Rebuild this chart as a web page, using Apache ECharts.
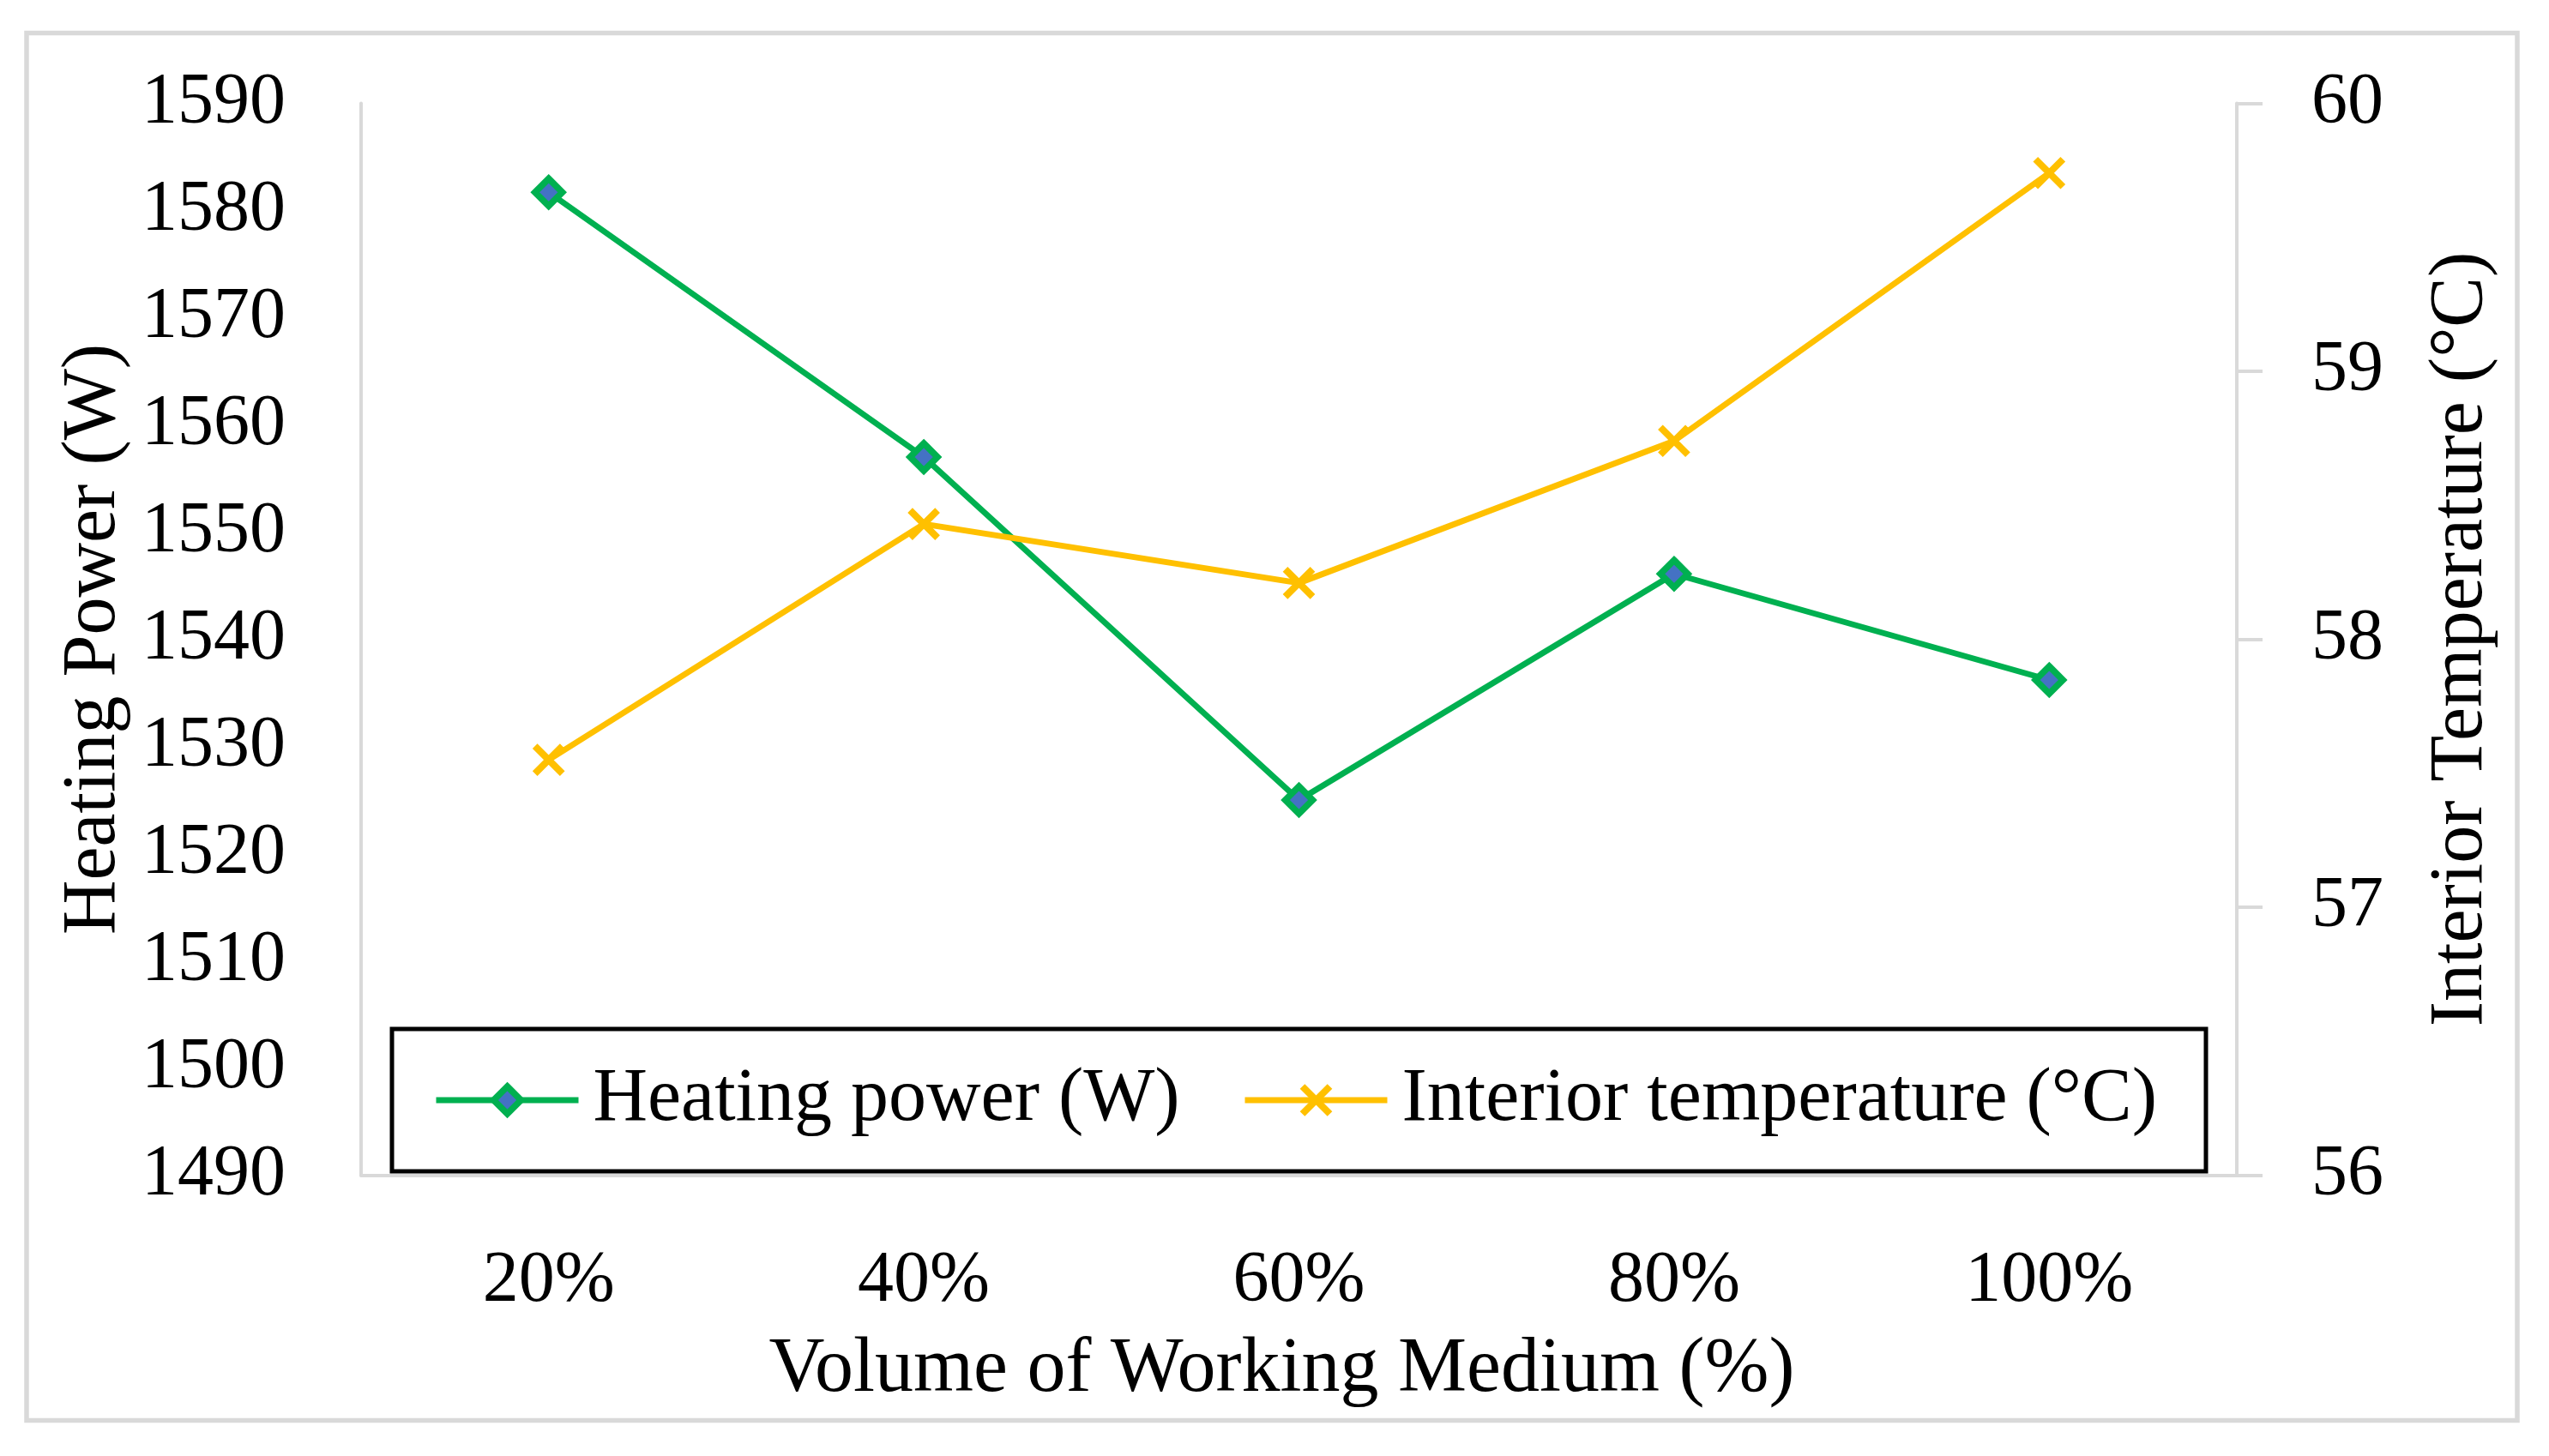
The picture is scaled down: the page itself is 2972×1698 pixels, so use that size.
<!DOCTYPE html>
<html>
<head>
<meta charset="utf-8">
<script src="https://cdn.jsdelivr.net/npm/echarts@6/dist/echarts.min.js"></script>
<style>
html,body{margin:0;padding:0;background:#fff;}
#c{width:2972px;height:1698px;}
</style>
</head>
<body>
<div id="c"></div>
<script>
const categories = ['20%', '40%', '60%', '80%', '100%'];
const heatingPower = [1581.7, 1557.0, 1525.0, 1546.1, 1536.2];
const interiorTemp = [57.55, 58.43, 58.21, 58.74, 59.74];
const leftAxis = {min: 1490, max: 1590, interval: 10};
const rightAxis = {min: 56, max: 60, interval: 1};
const seriesNames = ['Heating power (W)', 'Interior temperature (°C)'];

const FONT = 'Liberation Serif';
const GRAY = '#D9D9D9';

const chart = echarts.init(document.getElementById('c'), null, {renderer: 'canvas', devicePixelRatio: 1});

const option = {
  backgroundColor: '#fff',
  animation: false,
  textStyle: {fontFamily: FONT, color: '#000'},
  grid: {left: 421, right: 364, top: 120.5, bottom: 327.5, containLabel: false},
  graphic: [
    {type: 'rect', z: 0, shape: {x: 31, y: 38.5, width: 2904, height: 1618},
     style: {fill: 'none', stroke: GRAY, lineWidth: 5.5}},
    {type: 'rect', z: 100, shape: {x: 457, y: 1200, width: 2115, height: 166},
     style: {fill: '#fff', stroke: '#000', lineWidth: 5}}
  ],
  legend: [
    {data: [seriesNames[0]], left: 505, top: 1239, z: 110, padding: 0,
     itemWidth: 166, itemHeight: 40,
     lineStyle: {width: 7},
     itemStyle: {borderWidth: 7.5},
     textStyle: {fontFamily: FONT, fontSize: 88, color: '#000', padding: [0, 0, 0, 12]}},
    {data: [seriesNames[1]], left: 1448, top: 1239, z: 110, padding: 0,
     itemWidth: 166, itemHeight: 40,
     lineStyle: {width: 7},
     itemStyle: {borderWidth: 8},
     textStyle: {fontFamily: FONT, fontSize: 88, color: '#000', padding: [0, 0, 0, 12]}}
  ],
  xAxis: {
    type: 'category', data: categories, boundaryGap: true,
    name: 'Volume of Working Medium (%)', nameLocation: 'middle', nameGap: 183,
    nameTextStyle: {fontFamily: FONT, fontSize: 90, color: '#000', padding: [0, 40, 0, 0]},
    axisLine: {show: true, lineStyle: {color: GRAY, width: 4}},
    axisTick: {show: false},
    axisLabel: {fontFamily: FONT, fontSize: 84, color: '#000', margin: 82},
    splitLine: {show: false}
  },
  yAxis: [
    {
      type: 'value', position: 'left', min: leftAxis.min, max: leftAxis.max, interval: leftAxis.interval,
      name: 'Heating Power (W)', nameLocation: 'middle', nameRotate: 90, nameGap: 250,
      nameTextStyle: {fontFamily: FONT, fontSize: 88, color: '#000'},
      axisLine: {show: true, lineStyle: {color: GRAY, width: 4}},
      axisTick: {show: false},
      axisLabel: {fontFamily: FONT, fontSize: 84, color: '#000', margin: 88,
                  formatter: function (v) { return String(v); }},
      splitLine: {show: false}
    },
    {
      type: 'value', position: 'right', min: rightAxis.min, max: rightAxis.max, interval: rightAxis.interval,
      name: 'Interior Temperature (°C)', nameLocation: 'middle', nameRotate: 90, nameGap: 218,
      nameTextStyle: {fontFamily: FONT, fontSize: 88, color: '#000'},
      axisLine: {show: true, lineStyle: {color: GRAY, width: 4}},
      axisTick: {show: true, inside: false, length: 30, lineStyle: {color: GRAY, width: 4}},
      axisLabel: {fontFamily: FONT, fontSize: 84, color: '#000', margin: 87,
                  formatter: function (v) { return String(v); }},
      splitLine: {show: false}
    }
  ],
  series: [
    {
      name: seriesNames[0], type: 'line', yAxisIndex: 0, data: heatingPower,
      symbol: 'diamond', symbolSize: 32,
      itemStyle: {color: '#4472C4', borderColor: '#00B050', borderWidth: 7.5},
      lineStyle: {color: '#00B050', width: 7},
      emphasis: {disabled: true},
      z: 3
    },
    {
      name: seriesNames[1], type: 'line', yAxisIndex: 1, data: interiorTemp,
      symbol: 'path://M0,0L10,10M10,0L0,10', symbolSize: 32,
      itemStyle: {color: '#FFC000', borderColor: '#FFC000', borderWidth: 8},
      lineStyle: {color: '#FFC000', width: 7},
      emphasis: {disabled: true},
      z: 3
    }
  ]
};
chart.setOption(option);
</script>
</body>
</html>
